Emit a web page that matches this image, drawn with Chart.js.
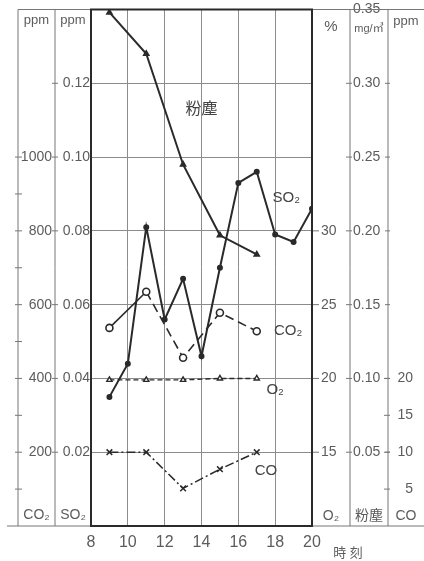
<!DOCTYPE html>
<html>
<head>
<meta charset="utf-8">
<script src="https://cdn.jsdelivr.net/npm/chart.js@4"></script>
<style>
  body { margin: 0; background: #fff; }
  canvas { display: block; }
</style>
</head>
<body>
<canvas id="myChart" width="424" height="561"></canvas>
<script>
// 時刻 axis
var hours = [8, 10, 12, 14, 16, 18, 20];

var dustHours = [9, 11, 13, 15, 17];
var dust = [0.348, 0.320, 0.245, 0.197, 0.184];                 // 粉塵 mg/m3
var so2Hours = [9, 10, 11, 12, 13, 14, 15, 16, 17, 18, 19, 20];
var so2 = [0.035, 0.044, 0.081, 0.056, 0.067, 0.046, 0.070, 0.093, 0.096, 0.079, 0.077, 0.086]; // ppm
var gasHours = [9, 11, 13, 15, 17];
var co2 = [537, 635, 456, 578, 528];                            // ppm
var o2 = [19.9, 19.9, 19.9, 20.0, 20.0];                        // %
var co = [10, 10, 5.1, 7.7, 10];                                // ppm

// tick labels of the five axes
var so2Ticks = [0.02, 0.04, 0.06, 0.08, 0.10, 0.12];
var co2Ticks = [100, 200, 300, 400, 500, 600, 700, 800, 900, 1000];
var o2Ticks = [15, 20, 25, 30];
var dustTicks = [0.05, 0.10, 0.15, 0.20, 0.25, 0.30, 0.35];
var coTicks = [5, 10, 15, 20];

// names written next to the lines (hour, level on the SO2 scale)
var noteText = ['粉塵', 'SO₂', 'CO₂', 'O₂', 'CO'];
var noteHour = [14.0, 18.6, 18.7, 18.0, 17.5];
var noteLevel = [0.113, 0.089, 0.053, 0.037, 0.015];

var ink = '#2a2a2a', grey = '#5c5c5c', gridCol = '#8c8c8c';
var fam = "'Liberation Sans', 'Noto Sans CJK JP', sans-serif";

function pts(xs, ys) {
  return xs.map(function (h, i) { return { x: h, y: ys[i] }; });
}
function setTicks(list) {
  return function (s) { s.ticks = list.map(function (v) { return { value: v }; }); };
}
// fixed column width, and no extra room asked for the end labels
function fixWidth(w) {
  return function (s) { s.width = w; s.paddingTop = 0; s.paddingBottom = 0; };
}

var decor = {
  id: 'decor',
  beforeDatasetsDraw: function (chart) {
    var c = chart.ctx, a = chart.chartArea, s = chart.scales;
    c.save();
    c.strokeStyle = '#777';
    c.lineWidth = 1;
    c.beginPath();
    [s.yCO2.left, s.ySO2.left, s.yDust.left, s.yCO.left].forEach(function (x) {
      c.moveTo(x, a.top); c.lineTo(x, a.bottom);
    });
    c.moveTo(s.yCO2.left, a.top); c.lineTo(chart.width, a.top);
    c.moveTo(s.yCO2.left - 11, a.bottom); c.lineTo(chart.width, a.bottom);
    c.stroke();

    function marks(scale, x0, x1) {
      scale.ticks.forEach(function (t) {
        var y = scale.getPixelForValue(t.value);
        c.moveTo(x0, y); c.lineTo(x1, y);
      });
    }
    c.beginPath();
    marks(s.yCO2, s.yCO2.left - 3, s.yCO2.left + 4);
    marks(s.ySO2, s.ySO2.left - 3, s.ySO2.left + 3);
    marks(s.yO2, s.yO2.left, s.yO2.left + 7);
    marks(s.yDust, s.yDust.left - 4, s.yDust.left + 2);
    marks(s.yDust, s.yDust.right - 3, s.yDust.right + 2);
    marks(s.yCO, s.yCO.left - 4, s.yCO.left + 2);
    c.stroke();

    // plot frame
    c.strokeStyle = ink;
    c.lineWidth = 2;
    c.strokeRect(a.left, a.top, a.right - a.left, a.bottom - a.top);
    c.restore();
  },
  afterDatasetsDraw: function (chart) {
    var c = chart.ctx, a = chart.chartArea, s = chart.scales;
    function mid(sc) { return (sc.left + sc.right) / 2; }
    var coMid = (s.yCO.left + chart.width) / 2;
    c.save();
    c.fillStyle = grey;
    c.textAlign = 'center';
    c.textBaseline = 'middle';
    // units on top
    c.font = '13px ' + fam;
    c.fillText('ppm', mid(s.yCO2), a.top + 11);
    c.fillText('ppm', mid(s.ySO2), a.top + 11);
    c.fillText('ppm', coMid, a.top + 12);
    c.font = '15px ' + fam;
    c.fillText('%', mid(s.yO2), a.top + 17);
    c.font = '11px ' + fam;
    c.fillText('mg/㎥', mid(s.yDust), a.top + 19);
    // axis names at the bottom
    c.font = '14px ' + fam;
    c.fillText('CO₂', mid(s.yCO2), a.bottom - 11);
    c.fillText('SO₂', mid(s.ySO2), a.bottom - 11);
    c.fillText('O₂', mid(s.yO2), a.bottom - 10);
    c.fillText('粉塵', mid(s.yDust), a.bottom - 10);
    c.fillText('CO', coMid, a.bottom - 10);
    c.font = '13px ' + fam;
    c.fillText('時 刻', s.x.getPixelForValue(20) + 36, a.bottom + 27);
    // series names
    c.fillStyle = '#444';
    noteText.forEach(function (t, i) {
      c.font = (i === 0 ? '16px ' : '15px ') + fam;
      c.fillText(t, s.x.getPixelForValue(noteHour[i]), s.ySO2.getPixelForValue(noteLevel[i]));
    });
    c.restore();
  }
};

var tickFont = { family: fam, size: 14 };

var ctx = document.getElementById('myChart');
var myChart = new Chart(ctx, {
  type: 'line',
  data: {
    datasets: [{
      label: '粉塵',
      data: pts(dustHours, dust),
      yAxisID: 'yDust',
      borderColor: ink,
      backgroundColor: ink,
      borderWidth: 2,
      pointStyle: 'triangle',
      pointRadius: 2.5
    }, {
      label: 'SO2',
      data: pts(so2Hours, so2),
      yAxisID: 'ySO2',
      borderColor: ink,
      backgroundColor: ink,
      borderWidth: 2,
      pointRadius: 2
    }, {
      label: 'CO2',
      data: pts(gasHours, co2),
      yAxisID: 'yCO2',
      borderColor: ink,
      backgroundColor: '#fff',
      borderWidth: 1.6,
      pointRadius: 3.5,
      segment: {
        borderDash: function (c) { return c.p0DataIndex > 0 ? [9, 5] : []; }
      }
    }, {
      label: 'O2',
      data: pts(gasHours, o2),
      yAxisID: 'yO2',
      borderColor: ink,
      backgroundColor: '#fff',
      borderWidth: 1.4,
      borderDash: [5, 3],
      pointStyle: 'triangle',
      pointRadius: 3
    }, {
      label: 'CO',
      data: pts(gasHours, co),
      yAxisID: 'yCO',
      borderColor: ink,
      backgroundColor: ink,
      borderWidth: 1.5,
      borderDash: [9, 3, 2, 3],
      pointStyle: 'crossRot',
      pointRadius: 4
    }]
  },
  options: {
    responsive: false,
    animation: false,
    layout: { padding: { left: 18, right: 11, top: 9.5, bottom: 0 } },
    plugins: { legend: { display: false }, tooltip: { enabled: false } },
    elements: { line: { tension: 0 } },
    scales: {
      x: {
        type: 'linear', min: 8, max: 20,
        afterBuildTicks: setTicks(hours),
        afterFit: function (s) { s.height = 35; s.paddingLeft = 0; s.paddingRight = 0; },
        grid: { color: gridCol, drawTicks: false },
        border: { display: false },
        ticks: { font: { family: fam, size: 16 }, color: grey, padding: 7 }
      },
      ySO2: {
        position: 'left', weight: 0, min: 0, max: 0.14,
        afterBuildTicks: setTicks(so2Ticks),
        afterFit: fixWidth(36),
        grid: { color: gridCol, drawTicks: false },
        border: { display: false },
        ticks: { font: tickFont, color: grey, padding: 1,
          callback: function (v) { return v.toFixed(2); } }
      },
      yCO2: {
        position: 'left', weight: 1, min: 0, max: 1400,
        afterBuildTicks: setTicks(co2Ticks),
        afterFit: fixWidth(37),
        grid: { display: false, drawTicks: false },
        border: { display: false },
        ticks: { font: tickFont, color: grey, padding: 3,
          callback: function (v) { return v % 200 === 0 ? v : ''; } }
      },
      yO2: {
        position: 'right', weight: 0, min: 10, max: 45,
        afterBuildTicks: setTicks(o2Ticks),
        afterFit: fixWidth(38),
        grid: { display: false, drawTicks: false },
        border: { display: false },
        ticks: { font: tickFont, color: grey, padding: 9 }
      },
      yDust: {
        position: 'right', weight: 1, min: 0, max: 0.35,
        afterBuildTicks: setTicks(dustTicks),
        afterFit: fixWidth(38),
        grid: { display: false, drawTicks: false },
        border: { display: false },
        ticks: { font: tickFont, color: grey, padding: 3,
          callback: function (v) { return v.toFixed(2); } }
      },
      yCO: {
        position: 'right', weight: 2, min: 0, max: 70,
        afterBuildTicks: setTicks(coTicks),
        afterFit: fixWidth(25),
        grid: { display: false, drawTicks: false },
        border: { display: false },
        ticks: { font: tickFont, color: grey, padding: 9, crossAlign: 'far' }
      }
    }
  },
  plugins: [decor]
});
</script>
</body>
</html>
